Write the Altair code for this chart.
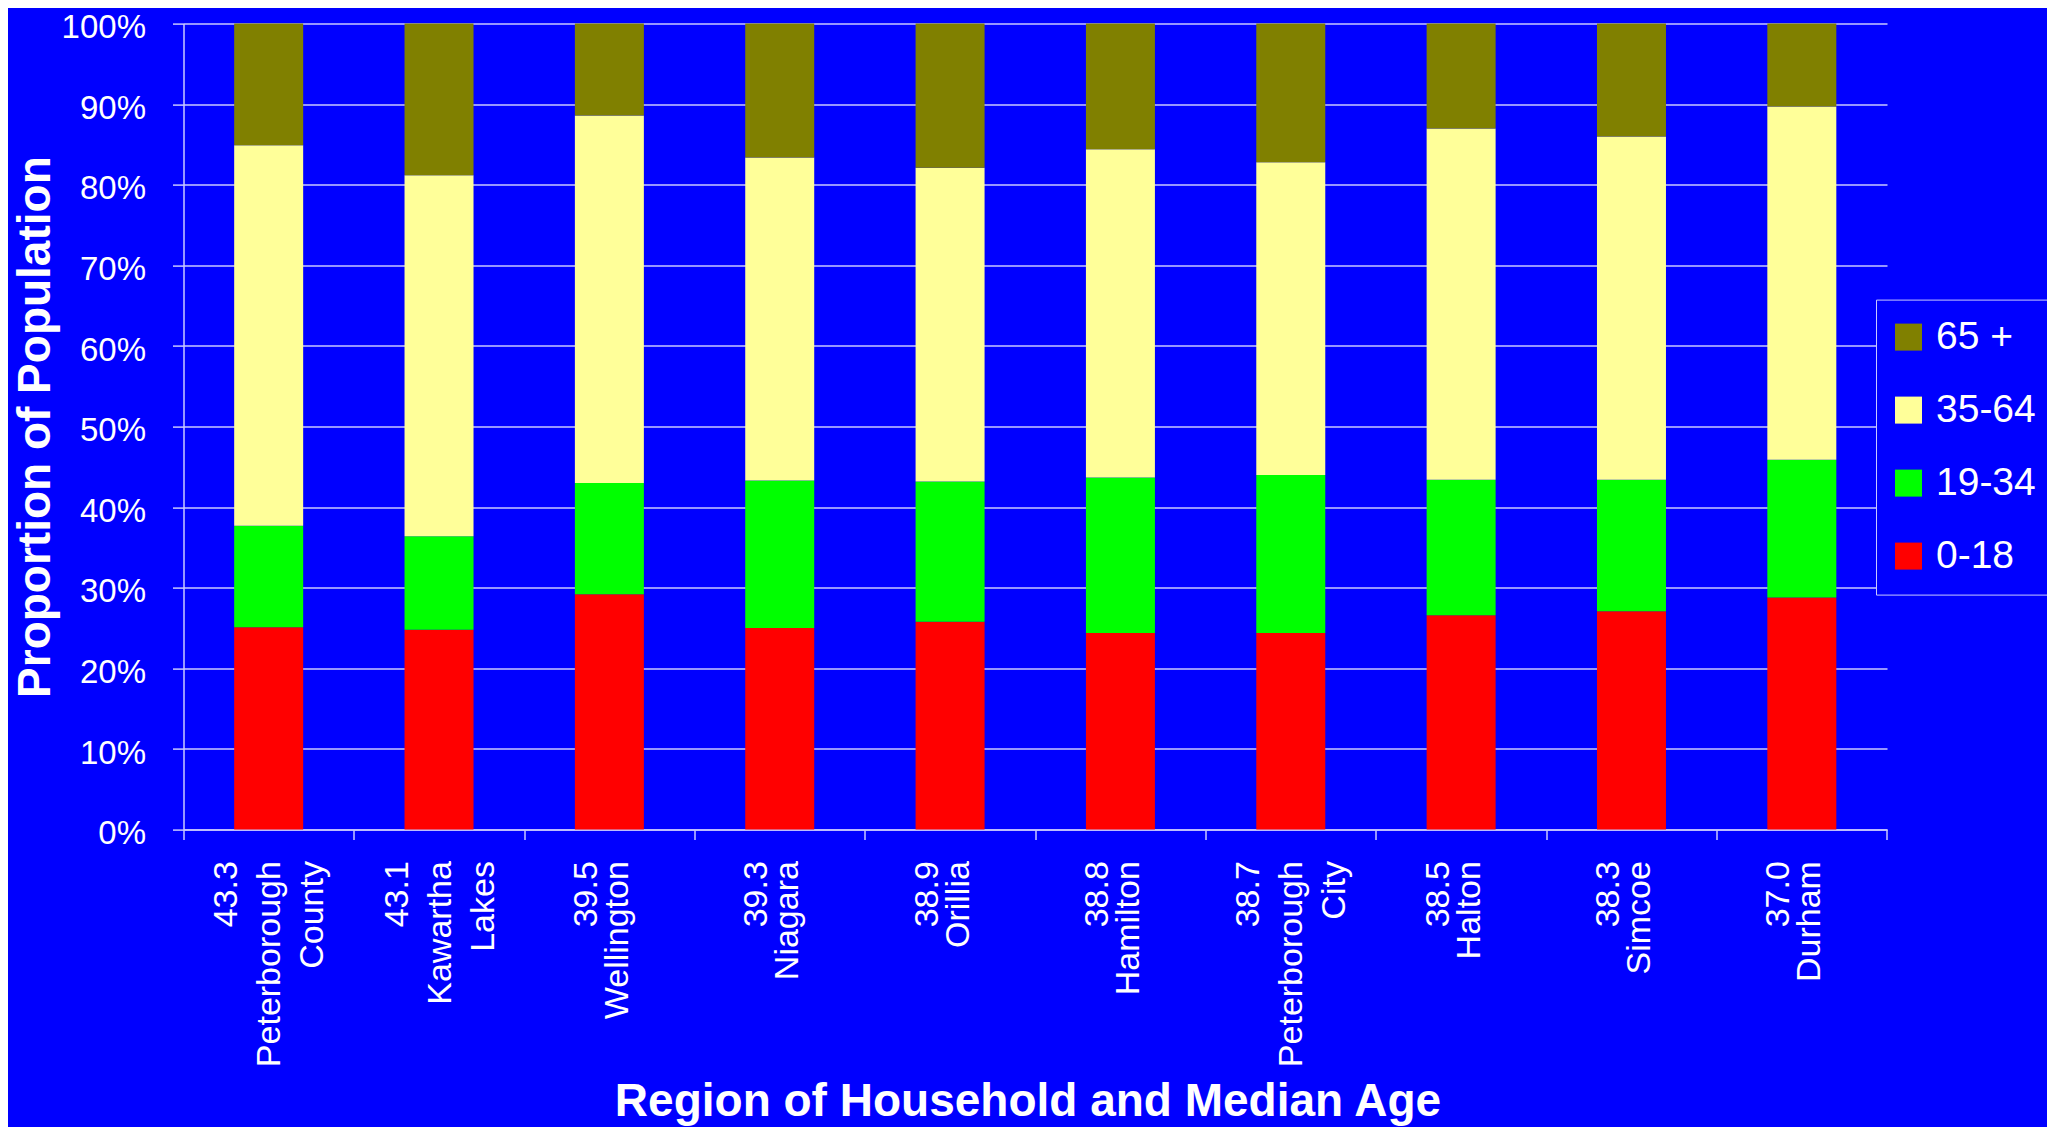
import altair as alt
import pandas as pd

# ---- data ----
median_ages = ["43.3", "43.1", "39.5", "39.3", "38.9", "38.8", "38.7", "38.5", "38.3", "37.0"]
regions = ["Peterborough|County", "Kawartha|Lakes", "Wellington", "Niagara", "Orillia",
           "Hamilton", "Peterborough|City", "Halton", "Simcoe", "Durham"]
age_groups = ["0-18", "19-34", "35-64", "65 +"]          # bottom -> top
share_0_18 = [25.1, 24.8, 29.2, 25.0, 25.8, 24.4, 24.4, 26.6, 27.1, 28.8]
share_19_34 = [12.6, 11.6, 13.8, 18.3, 17.4, 19.3, 19.6, 16.8, 16.3, 17.1]
share_35_64 = [47.2, 44.8, 45.6, 40.1, 38.9, 40.7, 38.8, 43.6, 42.6, 43.8]
share_65_plus = [15.1, 18.8, 11.4, 16.6, 17.9, 15.6, 17.2, 13.0, 14.0, 10.3]
legend_order = ["65 +", "35-64", "19-34", "0-18"]
legend_colors = ["#808000", "#FFFF99", "#00FF00", "#FF0000"]
y_ticks = [0, 10, 20, 30, 40, 50, 60, 70, 80, 90, 100]

# ---- table ----
cat_labels = [a + "|" + r for a, r in zip(median_ages, regions)]
series = [share_0_18, share_19_34, share_35_64, share_65_plus]
rows = []
for gi, (g, vals) in enumerate(zip(age_groups, series)):
    for lab, v in zip(cat_labels, vals):
        rows.append({"label": lab, "group": g, "value": v, "ord": gi})
df = pd.DataFrame(rows)

FONT = "Liberation Sans"
LINE = "#C8C8FF"
THREE = "length(split(datum.value, '|')) > 2"

chart = alt.Chart(df).mark_bar(width=alt.RelativeBandSize(0.405)).encode(
    x=alt.X(
        "label:N",
        sort=cat_labels,
        scale=alt.Scale(paddingInner=0, paddingOuter=0),
        axis=alt.Axis(
            title="Region of Household and Median Age",
            labelExpr="split(datum.label, '|')",
            labelAngle=270,
            labelAlign="right",
            labelBaseline="middle",
            labelFont=FONT,
            labelFontSize=34,
            labelLineHeight=alt.ExprRef(expr=THREE + " ? 43 : 31"),
            labelOffset=alt.ExprRef(expr=THREE + " ? -42 : -23"),
            labelPadding=21,
            labelColor="white",
            labelLimit=600,
            labelOverlap=False,
            tickBand="extent",
            tickSize=10,
            tickColor=LINE,
            tickWidth=1.5,
            domainColor=LINE,
            domainWidth=1.5,
            grid=False,
            titleX=844,
            titleY=286,
            titleAlign="center",
            titleBaseline="alphabetic",
            titleFont=FONT,
            titleFontSize=46,
            titleFontWeight="bold",
            titleColor="white",
        ),
    ),
    y=alt.Y(
        "value:Q",
        stack="zero",
        scale=alt.Scale(domain=[0, 100], nice=False),
        axis=alt.Axis(
            title="Proportion of Population",
            values=y_ticks,
            labelExpr="datum.value + '%'",
            labelFont=FONT,
            labelFontSize=33,
            labelColor="white",
            labelPadding=27,
            labelOffset=4,
            labelBaseline="middle",
            tickSize=11,
            tickColor=LINE,
            tickWidth=1.5,
            domainColor=LINE,
            domainWidth=1.5,
            grid=True,
            gridColor=LINE,
            gridWidth=1.5,
            titleAngle=270,
            titleX=-134.5,
            titleY=403,
            titleAlign="center",
            titleBaseline="alphabetic",
            titleFont=FONT,
            titleFontSize=46,
            titleFontWeight="bold",
            titleColor="white",
        ),
    ),
    color=alt.Color(
        "group:N",
        title=None,
        scale=alt.Scale(domain=legend_order, range=legend_colors),
        legend=alt.Legend(
            orient="none",
            legendX=1692.5,
            legendY=276,
            direction="vertical",
            symbolType="square",
            symbolSize=729,
            symbolStrokeWidth=0,
            symbolOpacity=1,
            symbolOffset=-5,
            labelFont=FONT,
            labelFontSize=39,
            labelColor="white",
            labelOffset=8,
            rowPadding=33,
            padding=18,
            fillColor="#0000FF",
            strokeColor=LINE,
        ),
    ),
    order=alt.Order("ord:Q", sort="ascending"),
).properties(
    width=1703.5,
    height=806,
    padding={"left": 175.5, "top": 15.6, "right": 160, "bottom": 297.4},
    autosize=alt.AutoSizeParams(type="none"),
).configure(
    background="#0000FF",
).configure_view(
    stroke="transparent",
)

chart.save("out.html", embed_options={"renderer": "svg", "actions": False})
